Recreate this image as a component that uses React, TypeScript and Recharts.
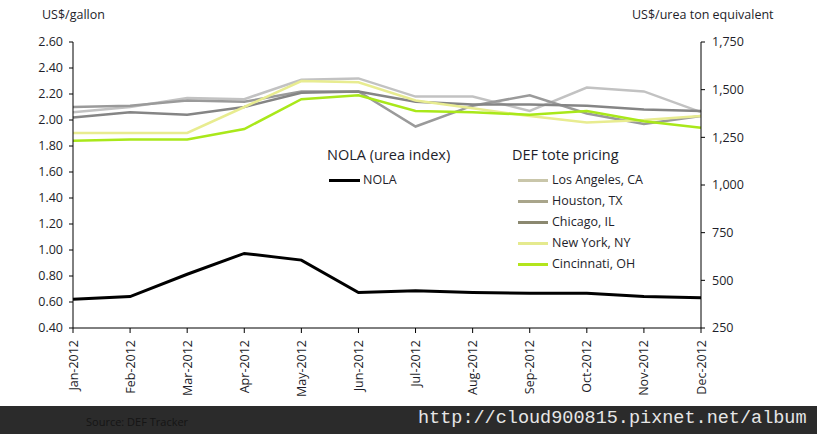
import React from "react";
import { LineChart, Line, XAxis, YAxis } from "recharts";

const months = ["Jan-2012","Feb-2012","Mar-2012","Apr-2012","May-2012","Jun-2012","Jul-2012","Aug-2012","Sep-2012","Oct-2012","Nov-2012","Dec-2012"];
const losAngeles = [2.06, 2.10, 2.17, 2.16, 2.31, 2.32, 2.18, 2.18, 2.07, 2.25, 2.22, 2.06];
const houston = [2.10, 2.11, 2.15, 2.14, 2.22, 2.22, 1.95, 2.11, 2.19, 2.05, 1.97, 2.03];
const chicago = [2.02, 2.06, 2.04, 2.10, 2.21, 2.22, 2.14, 2.12, 2.12, 2.11, 2.08, 2.07];
const newYork = [1.90, 1.90, 1.90, 2.10, 2.30, 2.29, 2.15, 2.09, 2.03, 1.98, 2.00, 2.03];
const cincinnati = [1.84, 1.85, 1.85, 1.93, 2.16, 2.19, 2.07, 2.06, 2.04, 2.07, 1.99, 1.94];
const nola = [401, 415, 532, 641, 606, 436, 446, 436, 432, 432, 415, 409];

const leftTicks = [0.4, 0.6, 0.8, 1.0, 1.2, 1.4, 1.6, 1.8, 2.0, 2.2, 2.4, 2.6];
const rightTicks = [250, 500, 750, 1000, 1250, 1500, 1750];

const data = months.map((m, i) => ({
  month: m,
  la: losAngeles[i],
  hou: houston[i],
  chi: chicago[i],
  ny: newYork[i],
  cin: cincinnati[i],
  nola: nola[i],
}));

const FONT = "'Open Sans', 'DejaVu Sans', sans-serif";
const TXT = "#1e1e2a";

const defLegend = [
  { name: "Los Angeles, CA", color: "#c9c6aa" },
  { name: "Houston, TX", color: "#a9a58b" },
  { name: "Chicago, IL", color: "#8b8870" },
  { name: "New York, NY", color: "#e5ea8e" },
  { name: "Cincinnati, OH", color: "#b3e51c" },
];

const XTick = (props: any) => {
  const { x, y, payload } = props;
  return (
    <g transform={`translate(${x},${y})`}>
      <text x={0} y={0} dy={4.5} textAnchor="end" transform="rotate(-90)" fill={TXT} fontSize={12.5} fontFamily={FONT}>
        {payload.value}
      </text>
    </g>
  );
};

const LegendBox = () => (
  <div style={{ position: "absolute", left: 327, top: 145, width: 330, height: 130, fontFamily: FONT, color: TXT }}>
    <div style={{ position: "absolute", left: 0, top: 0, fontSize: 14.5, lineHeight: "20px", whiteSpace: "nowrap" }}>NOLA (urea index)</div>
    <div style={{ position: "absolute", left: 2, top: 27, display: "flex", alignItems: "center", fontSize: 12.5, lineHeight: "16px" }}>
      <span style={{ display: "inline-block", width: 31, height: 3, background: "#000", marginRight: 3 }} />
      NOLA
    </div>
    <div style={{ position: "absolute", left: 185, top: 0, fontSize: 14.5, lineHeight: "20px", whiteSpace: "nowrap" }}>DEF tote pricing</div>
    {defLegend.map((d, i) => (
      <div key={d.name} style={{ position: "absolute", left: 191, top: 27 + i * 21, display: "flex", alignItems: "center", fontSize: 12.5, lineHeight: "16px", whiteSpace: "nowrap" }}>
        <span style={{ display: "inline-block", width: 30, height: 3, background: d.color, marginRight: 4 }} />
        {d.name}
      </div>
    ))}
  </div>
);

export default function App() {
  return (
    <div style={{ position: "absolute", left: 0, top: 0, width: 817, height: 434, background: "#fff", overflow: "hidden" }}>
      <div style={{ position: "absolute", left: 42, top: 6, fontFamily: FONT, fontSize: 12.5, color: TXT }}>US$/gallon</div>
      <div style={{ position: "absolute", left: 632, top: 6, fontFamily: FONT, fontSize: 12.5, color: TXT }}>US$/urea ton equivalent</div>
      <div style={{ position: "absolute", left: 0, top: 0 }}>
        <LineChart width={817} height={406} data={data} margin={{ top: 42, right: 56, left: 0, bottom: 8 }}>
          <XAxis
            dataKey="month"
            interval={0}
            height={70}
            tick={<XTick />}
            tickSize={5}
            tickMargin={7}
            axisLine={{ stroke: "#000", strokeWidth: 1 }}
            tickLine={{ stroke: "#000" }}
          />
          <YAxis
            yAxisId="left"
            domain={[0.4, 2.6]}
            ticks={leftTicks}
            interval={0}
            width={73}
            tickFormatter={(v: number) => v.toFixed(2)}
            tick={{ fill: TXT, fontSize: 12.5, fontFamily: FONT }}
            tickSize={4}
            tickMargin={6}
            axisLine={{ stroke: "#000" }}
            tickLine={{ stroke: "#000" }}
          />
          <YAxis
            yAxisId="right"
            orientation="right"
            domain={[250, 1750]}
            ticks={rightTicks}
            interval={0}
            width={60}
            tickFormatter={(v: number) => v.toLocaleString("en-US")}
            tick={{ fill: TXT, fontSize: 12.5, fontFamily: FONT, textAnchor: "start" }}
            tickSize={4}
            tickMargin={7}
            axisLine={{ stroke: "#000" }}
            tickLine={{ stroke: "#000" }}
          />
          <Line yAxisId="left" dataKey="la" stroke="#c2c2c2" strokeWidth={2.5} dot={false} isAnimationActive={false} />
          <Line yAxisId="left" dataKey="hou" stroke="#9a9a9a" strokeWidth={2.5} dot={false} isAnimationActive={false} />
          <Line yAxisId="left" dataKey="chi" stroke="#858585" strokeWidth={2.5} dot={false} isAnimationActive={false} />
          <Line yAxisId="left" dataKey="ny" stroke="#e8ec90" strokeWidth={2.5} dot={false} isAnimationActive={false} />
          <Line yAxisId="left" dataKey="cin" stroke="#a9e81a" strokeWidth={2.5} dot={false} isAnimationActive={false} />
          <Line yAxisId="right" dataKey="nola" stroke="#000" strokeWidth={3} dot={false} isAnimationActive={false} />
        </LineChart>
      </div>
      <LegendBox />
      <div style={{ position: "absolute", left: 0, top: 406, width: 817, height: 28, background: "#2b2b2b" }}>
        <div style={{ position: "absolute", left: 86, top: 8, fontFamily: FONT, fontSize: 11, color: "#151515" }}>Source: DEF Tracker</div>
        <div style={{ position: "absolute", left: 418, top: 2, fontFamily: "'Liberation Mono', 'DejaVu Sans Mono', monospace", fontSize: 18.5, color: "#e6e6e6", whiteSpace: "nowrap" }}>
          http://cloud900815.pixnet.net/album
        </div>
      </div>
    </div>
  );
}
